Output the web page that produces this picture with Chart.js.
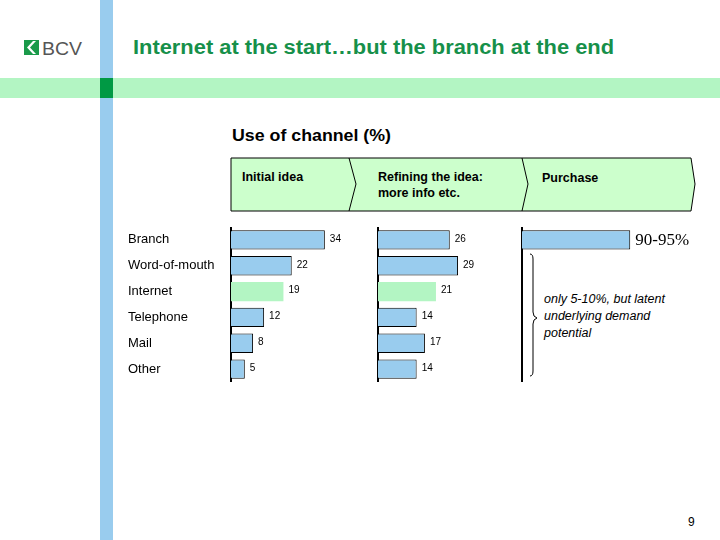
<!DOCTYPE html>
<html>
<head>
  <title>Use of channel</title>
  <script src="https://cdn.jsdelivr.net/npm/chart.js"></script>
  <style>
    body { margin: 0; background: #fff; font-family: Arial, "Liberation Sans", sans-serif; }
    #page { position: relative; width: 720px; height: 540px; overflow: hidden; }
    #deco { position: absolute; left: 0; top: 0; }
    canvas { position: absolute; }
  </style>
</head>
<body>
<div id="page">
  <svg id="deco" width="720" height="540">
    <!-- stripes -->
    <rect x="0" y="78" width="720" height="20" fill="#b3f5c3"/>
    <rect x="100" y="0" width="13" height="540" fill="#99ccee"/>
    <rect x="100" y="78" width="13" height="20" fill="#009944"/>
    <!-- logo -->
    <rect x="24" y="40" width="15" height="15" fill="#1a9a4a"/>
    <path d="M36,41 L30,47.5 L36,54 L33,54 L27,47.5 L33,41 Z" fill="#fff"/>
    <text x="42" y="55" font-size="18" fill="#555" font-family="Arial" textLength="40" lengthAdjust="spacingAndGlyphs">BCV</text>
    <!-- title -->
    <text x="133" y="54" font-size="20" font-weight="bold" fill="#16904a" font-family="Arial" textLength="481" lengthAdjust="spacingAndGlyphs">Internet at the start…but the branch at the end</text>
    <text x="232" y="141" font-size="16" font-weight="bold" fill="#000" font-family="Arial" textLength="159" lengthAdjust="spacingAndGlyphs">Use of channel (%)</text>
    <!-- stage arrows -->
    <polygon points="231,158 691,158 695,184 691,211 231,211" fill="#ccffcc" stroke="#000" stroke-width="1"/>
    <polyline points="349,158 356,184 349,211" fill="none" stroke="#000" stroke-width="1"/>
    <polyline points="522,158 528,184 522,211" fill="none" stroke="#000" stroke-width="1"/>
    <g font-size="12.5" font-weight="bold" font-family="Arial" fill="#000">
      <text x="242" y="181">Initial idea</text>
      <text x="378" y="181">Refining the idea:</text>
      <text x="378" y="197">more info etc.</text>
      <text x="542" y="182">Purchase</text>
    </g>
    <!-- brace -->
    <path d="M530,254 Q533,254 533,259 L533,312 Q533,317 537,318 Q533,319 533,324 L533,371 Q533,376 530,376" fill="none" stroke="#000" stroke-width="1"/>
    <g font-size="12.5" font-style="italic" font-family="Arial" fill="#000">
      <text x="544" y="303">only 5-10%, but latent</text>
      <text x="544" y="320">underlying demand</text>
      <text x="544" y="337">potential</text>
    </g>
    <text x="688" y="526" font-size="12" font-family="Arial" fill="#000">9</text>
  </svg>
  <canvas id="c1" width="241" height="155" style="left:128px; top:227px;"></canvas>
  <canvas id="c2" width="141" height="155" style="left:375px; top:227px;"></canvas>
  <canvas id="c3" width="180" height="155" style="left:519px; top:227px;"></canvas>
</div>

<script>
// channels, in order from top to bottom
let channels = ['Branch', 'Word-of-mouth', 'Internet', 'Telephone', 'Mail', 'Other'];
// initial idea (%)
let initialIdea = [34, 22, 19, 12, 8, 5];
// refining the idea (%)
let refining = [26, 29, 21, 14, 17, 14];
// purchase: branch 90-95%
let purchase = [92.5, null, null, null, null, null];
let purchaseLabels = ['90-95%', '', '', '', '', ''];

let blue = '#99ccee';
let green = '#b3f5c3';

function barColours() {
  return channels.map(c => c === 'Internet' ? green : blue);
}
function borderWidths() {
  return channels.map(c => c === 'Internet' ? 0 : 1);
}

// writes the value at the end of each bar
let valueLabels = {
  id: 'valueLabels',
  afterDatasetsDraw(chart, args, opts) {
    let ctx = chart.ctx;
    let meta = chart.getDatasetMeta(0);
    ctx.save();
    ctx.fillStyle = '#000';
    ctx.font = opts.font;
    ctx.textBaseline = 'middle';
    meta.data.forEach((bar, i) => {
      let v = chart.data.datasets[0].data[i];
      if (v === null) return;
      let txt = opts.labels ? opts.labels[i] : String(v);
      ctx.fillText(txt, bar.x + opts.gap, bar.y + opts.dy);
    });
    ctx.restore();
  }
};

function makeChart(id, values, showTicks, axisWidth, max, labelOpts, padRight) {
  return new Chart(document.getElementById(id), {
    type: 'bar',
    data: {
      labels: channels,
      datasets: [{
        data: values,
        backgroundColor: barColours(),
        borderColor: '#000',
        borderWidth: borderWidths(),
        borderSkipped: 'left',
        categoryPercentage: 1,
        barPercentage: 0.75
      }]
    },
    options: {
      indexAxis: 'y',
      responsive: false,
      animation: false,
      layout: { padding: { left: 0, right: padRight || 0, top: 0, bottom: 0 } },
      plugins: {
        legend: { display: false },
        tooltip: { enabled: false },
        valueLabels: labelOpts
      },
      scales: {
        x: { display: false, min: 0, max: max },
        y: {
          grid: { display: false, drawTicks: false },
          border: { color: '#000', width: 2 },
          ticks: {
            display: showTicks,
            crossAlign: 'far',
            color: '#000',
            font: { family: 'Arial', size: 13 }
          },
          afterFit(scale) {
            scale.width = axisWidth;
            // keep the axis running the full height of the canvas
            scale.paddingTop = 0;
            scale.paddingBottom = 0;
          }
        }
      }
    },
    plugins: [valueLabels]
  });
}

makeChart('c1', initialIdea, true, 103, 50, { font: '10px Arial', gap: 5, dy: -1 });
makeChart('c2', refining, false, 3, 50, { font: '10px Arial', gap: 5, dy: -1 });
makeChart('c3', purchase, false, 3, 100,
  { font: '17px "Liberation Serif", "Times New Roman", serif', gap: 5, dy: 1, labels: purchaseLabels }, 60);
</script>
</body>
</html>
